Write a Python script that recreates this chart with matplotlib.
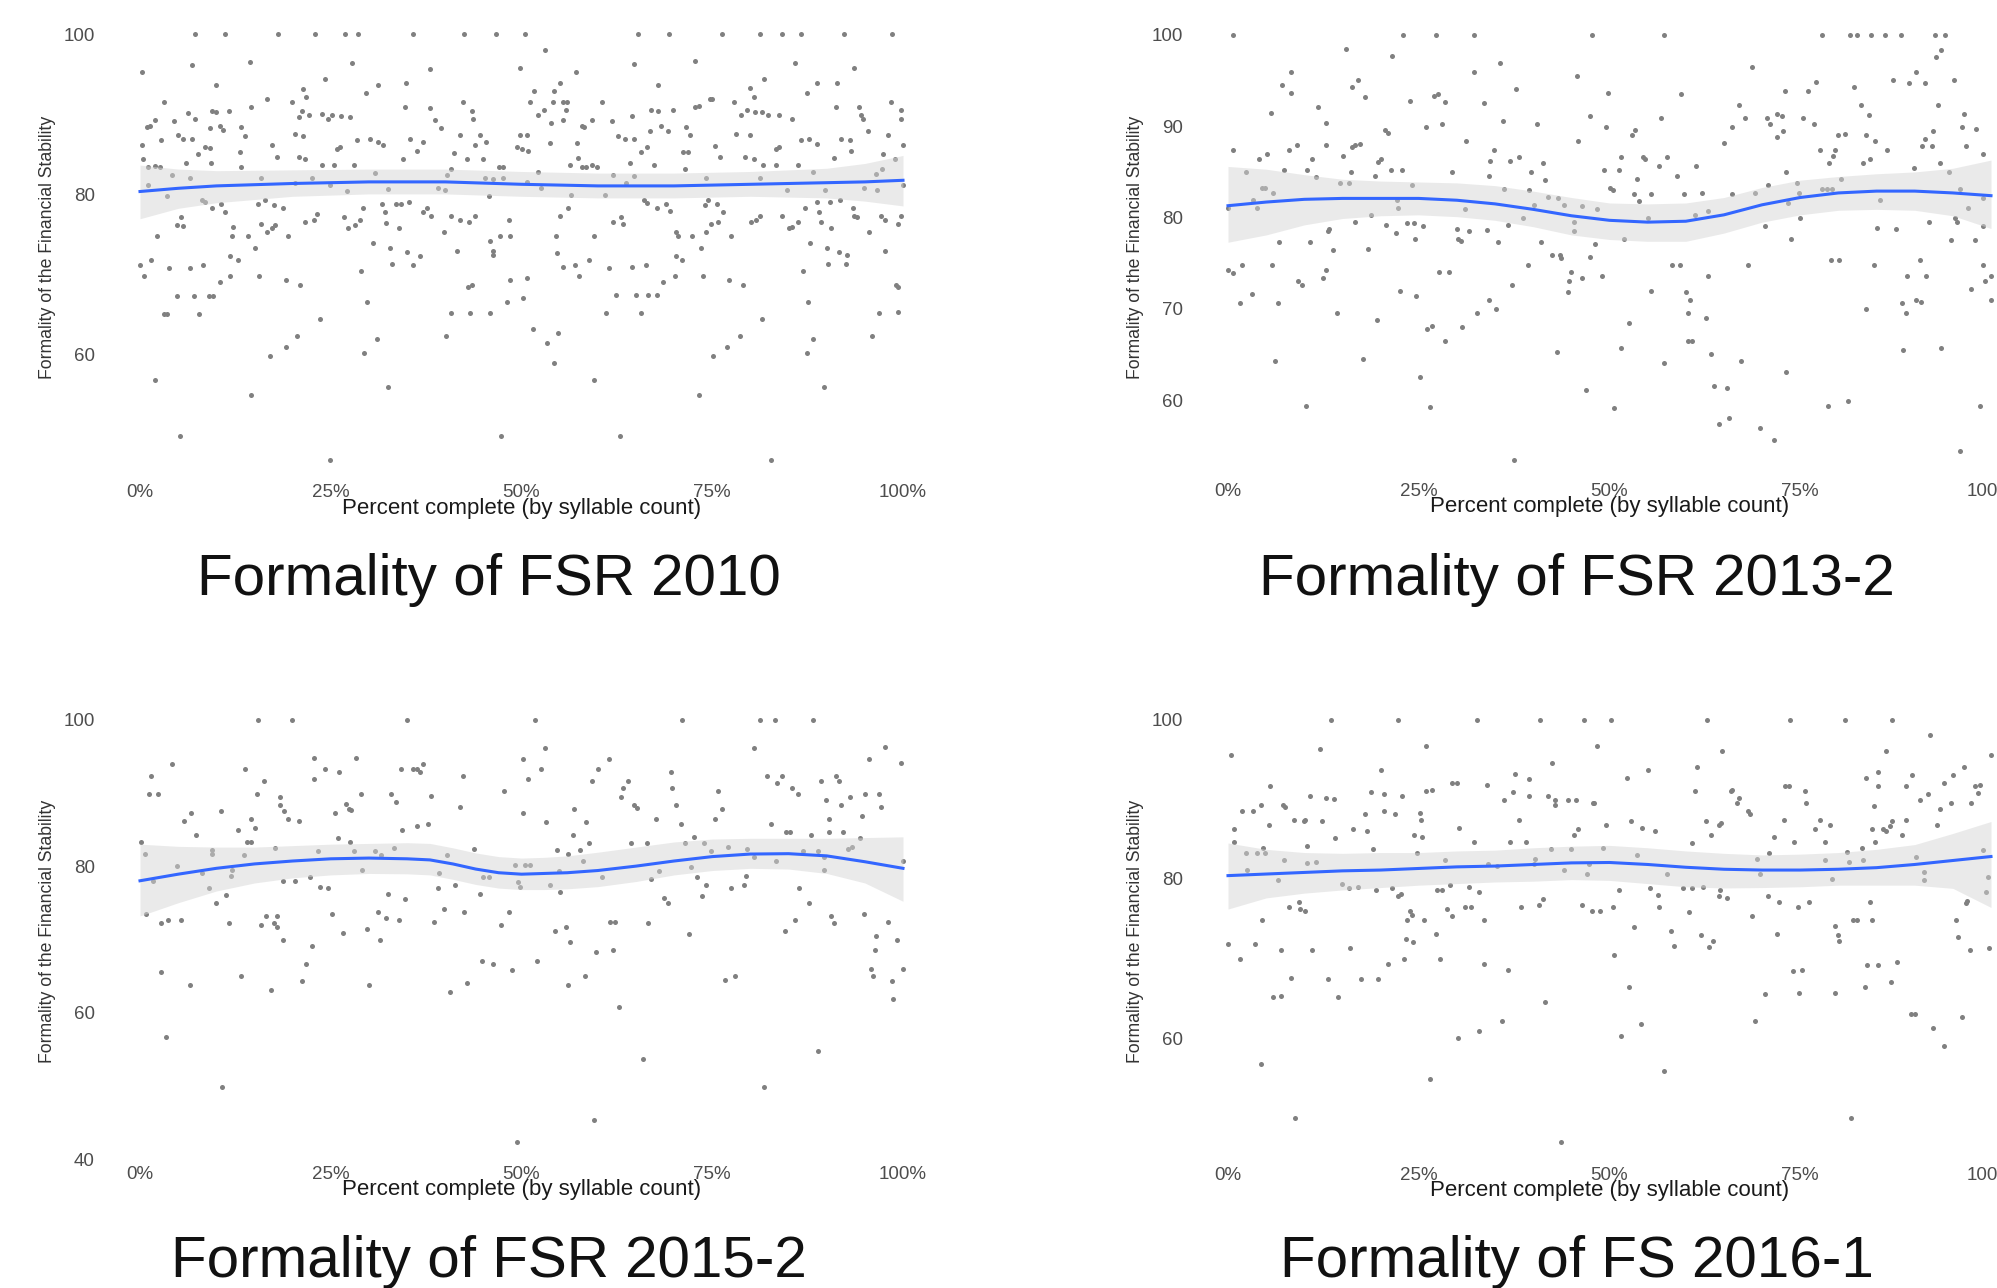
import matplotlib
matplotlib.use("Agg")
import matplotlib.pyplot as plt
import numpy as np

plt.rcParams['font.family'] = ['Liberation Sans', 'DejaVu Sans']

# ---- data: (percent complete, formality) ----
fsr_2010 = [
    (7.2,100),(11.1,100),(18.1,100),(23.0,100),(26.9,100),(28.6,100),(35.8,100),(42.5,100),(46.7,100),
    (6.8,96.2),(14.4,96.6),(27.8,96.4),(0.2,95.3),(38.0,95.7),
    (24.2,94.5),(9.9,93.7),(31.2,93.7),(34.9,93.9),(21.4,93.2),(29.6,92.7),(21.8,92.2),
    (3.1,91.6),(42.3,91.6),(16.7,92.0),(14.6,91.0),(19.9,91.6),(34.7,91.0),(38.0,90.8),(43.5,90.5),
    (9.4,90.5),(10.0,90.3),(11.6,90.4),(6.3,90.2),(7.2,89.5),(21.2,90.4),(22.1,90.0),
    (23.8,90.1),(24.7,89.5),(25.1,89.9),(26.4,89.8),(27.5,89.7),(20.8,89.7),(38.7,89.3),(43.7,89.4),
    (2.0,89.3),(4.4,89.2),(0.9,88.5),(1.3,88.6),(9.2,88.3),(13.3,88.4),(39.5,88.3),(10.5,88.6),(10.9,88.1),
    (20.3,87.6),(21.4,87.3),(5.0,87.4),(5.7,87.0),(6.8,87.0),(13.8,87.3),(42.0,87.4),(44.6,87.4),
    (30.1,87.0),(31.2,86.6),(31.9,86.2),(35.4,87.0),(37.1,86.6),(2.8,86.8),(28.5,86.8),(45.4,86.6),
    (0.2,86.2),(17.3,86.2),(43.9,86.2),(8.5,86.0),(9.2,85.8),(26.2,86.0),(25.8,85.7),(13.1,85.3),(36.3,85.5),
    (7.6,85.1),(41.2,85.2),(18.0,84.7),(20.9,84.7),(21.6,84.4),(0.4,84.4),(42.8,84.4),(44.9,84.4),(34.5,84.4),
    (6.0,83.9),(9.3,83.9),(23.8,83.7),(25.4,83.7),(28.1,83.7),(1.1,83.5),(2.0,83.6),(2.6,83.4),(13.3,83.5),
    (47.0,83.5),(47.6,83.5),(40.8,83.2),(4.2,82.4),(40.2,82.4),(30.8,82.7),
    (6.6,82.1),(15.9,82.1),(22.5,82.1),(45.2,82.1),(46.3,82.0),(47.6,82.1),
    (1.1,81.2),(24.9,81.2),(20.3,81.5),(39.0,80.8),(40.0,80.6),(32.5,80.7),(27.1,80.5),
    (3.5,79.8),(45.7,79.8),(8.1,79.3),(8.5,79.1),(10.6,78.9),(15.4,78.9),(16.4,79.4),
    (9.4,78.4),(18.7,78.4),(17.6,78.7),(31.7,78.9),(33.6,78.9),(34.2,78.9),(35.3,79.1),(29.2,78.4),(37.6,78.4),
    (11.1,77.8),(32.1,77.8),(37.1,77.8),(38.2,77.4),(40.8,77.4),(43.9,77.4),(5.4,77.2),(23.2,77.6),(26.8,77.2),
    (41.9,76.8),(43.1,76.6),(21.6,76.6),(22.8,76.8),(28.8,76.8),(32.2,76.5),(48.4,76.8),
    (4.8,76.2),(5.7,76.1),(12.2,76.0),(15.9,76.3),(17.7,76.2),(17.3,75.9),(27.3,75.9),(28.2,76.2),(33.9,75.8),
    (16.6,75.3),(39.9,75.3),(2.2,74.9),(12.0,74.9),(14.1,74.9),(19.4,74.9),(47.2,74.9),(48.5,74.9),
    (45.9,74.2),(30.6,74.0),(15.1,73.3),(32.8,73.3),(41.5,73.0),(46.2,73.0),(46.3,72.5),(35.0,72.8),
    (11.8,72.3),(36.7,72.3),(1.5,71.9),(12.9,71.9),(33.0,71.4),(0.0,71.2),(8.3,71.2),(35.8,71.2),
    (3.8,70.8),(6.6,70.8),(28.9,70.5),(0.5,69.8),(11.8,69.8),(15.6,69.8),(19.2,69.4),(10.5,69.1),(21.0,68.7),
    (48.5,69.3),(43.0,68.5),(43.5,68.7),
    (4.9,67.4),(7.1,67.4),(9.0,67.4),(9.6,67.4),(48.1,66.6),(29.8,66.6),
    (3.1,65.1),(3.5,65.1),(7.7,65.1),(40.8,65.3),(43.3,65.3),(45.9,65.3),(23.6,64.5),
    (20.6,62.4),(40.1,62.4),(31.0,62.0),(19.1,61.0),(29.3,60.3),(17.0,59.9),(2.0,56.9),(32.5,56.0),(14.6,55.0),
    (5.2,49.9),(47.3,49.9),(24.9,46.9),
    (50.4,100),(65.3,100),(69.3,100),(76.3,100),(81.2,100),(84.2,100),(86.6,100),(92.3,100),(98.6,100),
    (53.1,98.0),(72.8,96.7),(85.8,96.4),(64.8,96.3),(49.8,95.8),(93.6,95.8),(57.1,95.3),(81.8,94.5),
    (55.0,93.9),(88.7,93.9),(91.4,93.9),(67.9,93.7),(79.9,93.3),(51.6,93.0),(54.3,93.0),(87.4,92.7),
    (80.5,92.2),(74.7,92.0),(75.0,92.0),
    (51.1,91.6),(54.1,91.6),(55.5,91.6),(55.9,91.6),(60.6,91.6),(77.9,91.6),(98.4,91.6),
    (72.7,91.0),(73.3,91.1),(91.2,91.0),(94.2,91.0),
    (53.0,90.6),(55.8,90.6),(67.0,90.6),(67.9,90.5),(69.8,90.6),(79.6,90.6),(99.7,90.6),
    (80.6,90.3),(81.5,90.3),(94.5,90.0),(52.2,89.9),(64.5,89.8),(82.3,89.9),(83.7,89.9),(78.8,89.9),
    (85.4,89.5),(94.7,89.4),(99.8,89.5),(55.4,89.3),(53.9,89.0),(59.3,89.3),(61.9,89.2),
    (58.2,88.5),(57.9,88.6),(68.3,88.6),(69.2,88.0),(71.6,88.4),(66.9,88.0),(95.4,88.0),
    (78.1,87.6),(80.0,87.4),(98.0,87.4),(72.1,87.4),(49.8,87.4),(50.7,87.4),(62.7,87.3),(63.6,87.0),(64.7,87.0),
    (87.7,87.0),(86.6,86.8),(91.9,87.0),(93.0,86.8),(53.7,86.5),(57.3,86.5),(75.3,86.1),(88.7,86.3),(100.0,86.2),
    (66.5,86.0),(83.7,86.0),(83.4,85.7),(49.4,86.0),(50.0,85.7),(50.8,85.5),(65.7,85.3),(93.2,85.5),
    (71.2,85.3),(71.8,85.3),(97.4,85.1),
    (57.4,84.6),(76.0,84.7),(79.3,84.7),(80.5,84.4),(91.0,84.6),(99.0,84.4),(64.2,84.0),
    (56.3,83.7),(57.9,83.5),(58.5,83.5),(59.3,83.7),(59.9,83.5),(67.4,83.7),(81.7,83.7),(83.3,83.7),(86.3,83.7),
    (71.4,83.2),(97.3,83.2),(52.1,82.8),(88.2,82.8),(96.5,82.6),(62.0,82.4),(64.7,82.3),(74.2,82.1),(81.3,82.1),
    (50.7,81.6),(63.7,81.4),(100.0,81.2),(52.6,80.8),(94.9,80.8),(96.6,80.6),(89.8,80.6),(84.8,80.6),
    (56.5,80.0),(61.0,80.0),
    (66.0,79.3),(66.5,79.0),(74.4,79.3),(74.1,78.7),(90.4,79.1),(91.7,79.3),(88.7,79.1),(68.9,78.9),(75.6,78.9),
    (56.1,78.4),(67.7,78.4),(87.2,78.4),(93.5,78.4),(69.4,78.0),(76.4,77.8),(89.0,77.8),
    (55.0,77.4),(84.1,77.4),(81.3,77.4),(93.6,77.4),(94.0,77.2),(97.1,77.4),(99.8,77.4),(63.0,77.2),(97.6,76.8),
    (62.0,76.6),(80.1,76.6),(80.7,76.8),(89.2,76.6),(86.2,76.6),(99.3,76.3),(63.3,76.3),(74.9,76.3),(75.8,76.6),
    (85.5,76.0),(85.1,75.8),(90.5,75.8),(70.3,75.3),(95.6,75.3),
    (54.5,74.9),(59.5,74.9),(70.5,74.9),(72.4,74.9),(77.5,74.9),(74.2,75.4),
    (87.8,74.0),(73.5,73.3),(90.0,73.3),(97.6,73.0),(91.6,72.9),(92.7,72.5),(54.7,72.7),(70.3,72.4),(71.1,71.9),
    (58.8,71.9),(90.2,71.4),(92.5,71.4),(55.4,71.0),(57.0,71.2),(61.5,70.8),(64.5,71.0),(66.3,71.2),(86.9,70.5),
    (57.5,69.9),(70.1,69.9),(73.8,69.9),(50.7,69.6),(77.2,69.4),(68.6,69.1),(79.0,68.7),(99.3,68.5),(99.1,68.7),
    (62.4,67.5),(65.0,67.5),(66.6,67.5),(67.8,67.5),(50.2,67.1),(87.5,66.6),
    (61.1,65.2),(65.7,65.2),(96.8,65.2),(99.4,65.4),(81.5,64.5),(51.5,63.2),(54.8,62.7),(78.7,62.4),(95.9,62.4),
    (88.2,62.0),(53.4,61.5),(76.9,61.0),(87.4,60.3),(75.1,59.9),(54.2,59.0),(59.5,56.9),(89.6,56.0),(73.2,55.0),
    (62.9,49.9),(82.7,46.9),
]

fsr_2013_2 = [
    (0.6,100),(23.0,100),(27.3,100),(32.2,100),(47.7,100),
    (15.4,98.5),(21.5,97.7),(35.6,96.9),(8.2,95.9),(32.3,95.9),(45.7,95.5),(17.1,95.1),(7.1,94.5),(16.2,94.3),
    (37.8,94.1),(8.3,93.7),(27.5,93.5),(27.0,93.3),(18.0,93.2),(23.8,92.8),(28.4,92.7),(33.5,92.5),(11.8,92.1),
    (5.6,91.5),(47.4,91.1),(36.0,90.6),(12.9,90.4),(40.5,90.3),(28.0,90.3),(25.9,89.9),(20.6,89.6),(21.0,89.3),
    (31.2,88.4),(45.9,88.4),(9.0,88.0),(12.8,88.0),(16.6,88.0),(17.3,88.1),(16.2,87.7),
    (0.6,87.4),(8.0,87.4),(34.8,87.4),(5.1,87.0),(15.1,86.8),(38.2,86.6),(20.1,86.4),(19.7,86.1),(4.0,86.4),(11.0,86.4),
    (34.4,86.2),(37.0,86.2),(41.3,86.0),
    (7.3,85.2),(10.4,85.2),(21.3,85.2),(22.8,85.2),(2.3,85.0),(16.1,85.0),(29.4,85.0),(39.7,85.0),
    (19.3,84.6),(34.2,84.6),(11.5,84.4),(41.6,84.1),(14.7,83.8),(15.8,83.8),(24.1,83.6),
    (4.4,83.2),(4.8,83.2),(36.2,83.1),(39.5,83.0),(5.9,82.7),(42.0,82.3),(43.3,82.1),(3.3,81.9),(22.2,81.9),
    (40.1,81.4),(44.1,81.4),(46.4,81.3),(0.0,81.1),(22.3,81.1),(3.8,81.1),(31.0,80.9),
    (18.7,80.3),(38.7,79.9),(16.6,79.5),(45.3,79.5),(20.7,79.2),(23.5,79.4),(24.4,79.4),(25.6,79.1),(36.7,79.2),
    (30.0,78.8),(13.2,78.8),(13.1,78.5),(34.0,78.6),(31.6,78.5),(22.0,78.3),(45.3,78.5),
    (24.5,77.7),(30.2,77.7),(30.5,77.4),(6.7,77.3),(10.7,77.3),(35.4,77.3),(41.0,77.3),
    (18.4,76.6),(13.8,76.5),(42.4,75.9),(43.5,75.9),(43.7,75.6),(47.4,75.7),
    (1.9,74.8),(5.8,74.8),(39.3,74.8),(0.0,74.3),(0.6,73.9),(12.9,74.3),(27.7,74.0),(28.9,74.0),(44.9,74.0),
    (46.4,73.4),(12.4,73.4),(9.2,73.0),(9.7,72.6),(44.7,73.0),(37.2,72.6),(22.6,72.0),(44.5,71.8),(3.2,71.6),
    (24.6,71.4),(34.2,71.0),(1.6,70.6),(6.5,70.6),(35.1,70.0),(14.3,69.6),(32.6,69.6),(19.5,68.8),
    (26.7,68.1),(26.1,67.8),(30.7,68.0),(28.5,66.5),(43.1,65.3),(17.7,64.5),(6.2,64.3),(25.2,62.5),(46.9,61.1),
    (10.2,59.4),(26.5,59.2),(37.5,53.5),
    (57.2,100),(77.8,100),(81.5,100),(82.4,100),(84.3,100),(86.1,100),(88.2,100),(92.6,100),(94.0,100),
    (93.5,98.4),(92.8,97.6),(68.7,96.5),(90.2,95.9),(87.2,95.1),(95.1,95.1),(77.1,94.9),(89.2,94.7),(91.3,94.7),
    (82.0,94.3),(73.0,93.9),(76.0,93.9),(49.8,93.7),(59.4,93.5),
    (67.0,92.3),(82.9,92.3),(93.0,92.3),(96.5,91.4),(72.0,91.4),(72.6,91.1),(84.0,91.2),
    (56.8,90.9),(67.7,90.9),(70.6,90.9),(75.3,90.9),(71.1,90.3),(76.8,90.3),
    (49.5,89.9),(66.0,89.9),(96.2,89.9),(98.0,89.7),(72.7,89.5),(53.3,89.6),(92.4,89.5),
    (52.9,89.1),(80.0,89.1),(80.9,89.2),(83.6,89.1),(72.0,88.8),(84.8,88.4),(91.3,88.6),(65.0,88.2),
    (90.9,87.8),(92.3,87.8),(96.7,87.8),(77.6,87.4),(79.6,87.4),(86.4,87.4),(99.0,87.0),(79.3,86.8),
    (51.5,86.6),(54.4,86.6),(57.6,86.6),(54.7,86.4),(84.1,86.4),(78.8,86.0),(83.2,86.0),(93.3,86.0),
    (56.5,85.6),(61.4,85.6),(89.9,85.4),(49.3,85.2),(51.3,85.2),(73.1,85.0),(94.5,85.0),(58.8,84.6),
    (53.6,84.2),(80.4,84.2),(74.6,83.8),(70.8,83.6),(50.1,83.2),(50.5,83.0),
    (77.9,83.1),(78.5,83.1),(79.2,83.1),(96.0,83.1),(62.1,82.7),(69.1,82.7),(74.9,82.7),
    (53.2,82.6),(55.5,82.6),(59.8,82.6),(66.1,82.6),(99.0,82.1),(85.4,81.9),(53.9,81.8),(73.4,81.6),(97.0,81.1),
    (48.3,80.9),(62.9,80.7),(61.2,80.3),(75.0,79.9),(55.0,79.9),(95.3,79.9),(95.5,79.5),(91.9,79.5),(70.4,79.1),(99.0,79.1),
    (85.0,78.9),(87.6,78.7),(51.9,77.7),(73.8,77.7),(94.8,77.5),(97.9,77.5),(48.1,77.1),
    (79.0,75.4),(80.1,75.4),(90.7,75.4),(58.2,74.8),(59.2,74.8),(68.1,74.8),(84.7,74.8),(98.9,74.8),
    (49.0,73.6),(62.9,73.6),(89.0,73.6),(91.5,73.6),(100.0,73.6),(99.2,73.0),(97.4,72.2),(55.5,72.0),(60.0,71.8),
    (60.5,71.0),(90.2,71.0),(90.8,70.8),(100.0,71.0),(88.4,70.6),(83.6,70.0),(60.3,69.6),(88.8,69.6),(62.6,69.0),
    (52.6,68.4),(60.3,66.5),(60.8,66.5),(51.5,65.7),(88.5,65.5),(93.4,65.7),(63.3,65.1),(67.2,64.3),(57.1,64.1),
    (73.1,63.1),(63.7,61.5),(65.4,61.3),(81.2,59.9),(78.7,59.4),(98.6,59.4),(50.6,59.1),(65.6,58.0),(64.3,57.4),
    (69.7,57.0),(71.5,55.6),(95.9,54.4),
]

fsr_2015_2 = [
    (15.4,100),(19.9,100),(35.0,100),
    (22.8,94.8),(28.3,94.8),(4.2,93.9),(13.7,93.3),(24.2,93.3),(34.2,93.3),(35.8,93.3),(36.3,93.3),(37.1,93.9),(36.7,92.9),
    (26.1,92.9),(1.4,92.3),(42.3,92.3),(22.8,91.9),(16.3,91.6),(47.7,90.3),
    (1.2,89.8),(2.3,89.8),(15.3,89.8),(28.9,89.8),(32.9,89.8),(38.1,89.6),(18.3,89.4),(33.6,88.8),(27.0,88.5),
    (18.3,88.3),(41.9,88.1),(27.4,87.8),(27.7,87.6),(10.6,87.5),(18.9,87.5),(6.7,87.3),(25.5,87.3),
    (14.5,86.5),(19.4,86.5),(5.8,86.1),(20.9,86.1),(37.8,85.8),(36.3,85.5),(15.1,85.2),(12.8,85.0),(34.3,85.0),
    (7.3,84.2),(26.0,83.8),(0.1,83.3),(14.0,83.3),(14.6,83.3),(27.5,83.3),(17.7,82.5),(33.3,82.5),(43.8,82.3),
    (23.3,82.0),(28.1,82.0),(30.8,82.0),(9.5,82.2),(0.6,81.7),(9.5,81.7),(13.6,81.5),(31.6,81.5),(40.2,81.5),
    (49.1,80.2),(4.9,80.0),(12.1,79.5),(29.1,79.5),(8.1,79.1),(39.2,79.1),(11.9,78.7),(22.3,78.5),(45.0,78.5),(45.7,78.5),
    (1.7,78.0),(18.8,78.0),(20.3,78.0),(49.8,77.2),(23.6,77.2),(24.7,77.0),(41.3,77.4),(9.0,77.0),(39.0,77.0),
    (44.6,76.2),(32.5,76.2),(11.3,76.0),(34.7,75.5),(10.0,75.0),(39.9,74.2),(31.2,73.7),(42.5,73.7),(48.4,73.7),
    (0.8,73.4),(25.1,73.4),(16.5,73.2),(18.0,73.2),(32.2,72.9),(3.7,72.7),(5.4,72.7),(33.9,72.7),(38.5,72.4),
    (2.8,72.2),(11.6,72.2),(17.6,72.2),(15.8,72.0),(17.9,71.7),(47.3,71.9),(29.8,71.4),(26.6,70.9),(18.7,69.9),(31.5,69.9),
    (22.5,69.1),(44.8,67.1),(21.8,66.6),(46.2,66.6),(48.7,65.8),(2.7,65.6),(13.2,65.0),(21.2,64.3),(42.9,64.1),
    (6.6,63.8),(30.0,63.8),(17.2,63.1),(40.6,62.8),(3.4,56.7),(10.8,49.9),(49.4,42.3),
    (51.8,100),(71.0,100),(81.3,100),(83.2,100),(88.2,100),
    (53.1,96.1),(80.5,96.1),(97.6,96.3),(95.5,94.6),(61.5,94.6),(50.2,94.6),(99.7,94.1),(52.6,93.3),(60.0,93.3),
    (69.6,92.9),(82.2,92.3),(84.1,92.3),(91.2,92.3),(50.8,91.9),(59.3,91.6),(63.9,91.6),(89.3,91.6),(91.6,91.6),
    (83.5,91.3),(63.3,90.6),(69.7,90.6),(85.4,90.6),(75.8,90.3),(86.2,89.8),(95.0,89.8),(96.9,89.8),(63.1,89.4),(93.0,89.4),
    (89.9,89.0),(64.7,88.3),(70.2,88.3),(91.9,88.3),(97.1,88.1),(65.2,88.0),(56.9,87.8),(76.3,87.8),(50.2,87.3),
    (94.6,86.8),(67.6,86.5),(75.3,86.5),(90.3,86.5),(53.2,86.0),(58.5,86.0),(70.9,85.8),(82.7,85.8),
    (84.7,84.6),(85.2,84.6),(90.3,84.6),(92.2,84.6),(56.7,84.3),(87.9,84.3),(72.6,84.0),(94.4,83.8),
    (58.8,83.2),(64.3,83.2),(66.5,83.2),(71.4,83.2),(73.9,83.2),(77.0,82.6),(92.8,82.4),(93.3,82.6),
    (54.6,82.2),(57.7,82.2),(79.5,82.4),(74.9,82.0),(86.9,82.0),(88.9,82.0),(56.1,81.7),(80.5,81.3),(89.6,81.3),
    (83.3,80.7),(100.0,80.7),(58.0,80.7),(50.5,80.2),(51.1,80.2),(72.2,79.9),(89.7,79.5),(68.0,79.4),(54.9,79.3),
    (79.4,78.7),(60.6,78.5),(73.0,78.5),(67.0,78.2),(49.6,77.9),(53.8,77.4),(74.2,77.4),(79.2,77.4),
    (77.5,77.0),(86.4,77.0),(55.1,76.4),(73.6,75.9),(68.7,75.7),(69.2,75.0),(87.7,75.0),
    (94.9,73.5),(90.6,73.2),(85.8,72.7),(61.6,72.4),(62.3,72.4),(98.0,72.4),(66.6,72.2),(91.0,72.2),(55.8,71.7),
    (54.4,71.2),(84.5,71.2),(72.0,70.8),(96.4,70.4),(99.2,69.9),(56.4,69.7),(62.0,68.6),(96.3,68.6),(59.8,68.3),
    (52.0,67.1),(100.0,66.0),(95.8,66.0),(58.3,65.0),(78.0,65.0),(96.1,65.0),(76.7,64.5),(98.5,64.3),(56.1,63.8),
    (98.7,61.8),(62.8,60.8),(88.8,54.7),(65.9,53.6),(81.8,49.9),(59.5,45.3),
]

fs_2016_1 = [
    (13.5,100),(22.3,100),(32.6,100),(40.9,100),(46.7,100),
    (26.0,96.7),(12.0,96.3),(0.4,95.6),(42.4,94.6),(20.0,93.7),(37.6,93.2),(39.4,92.5),(29.3,92.0),(30.0,92.0),
    (34.0,91.8),(5.5,91.6),(26.0,91.0),(26.7,91.2),(18.7,90.9),(37.4,90.9),(20.4,90.6),(22.8,90.4),
    (10.7,90.4),(39.5,90.4),(41.9,90.4),(12.9,90.2),(13.9,90.0),(36.2,89.9),(42.9,89.9),(44.5,89.9),(45.6,89.9),
    (47.9,89.5),(4.3,89.3),(7.2,89.3),(7.5,89.0),(42.9,89.3),
    (3.3,88.5),(1.9,88.5),(20.5,88.5),(25.2,88.3),(18.0,88.1),(21.9,88.1),
    (8.6,87.4),(9.9,87.2),(10.1,87.4),(12.3,87.2),(25.3,87.4),(38.2,87.4),(5.4,86.7),(30.3,86.4),
    (0.8,86.2),(16.4,86.2),(18.2,86.0),(24.4,85.5),(25.4,85.3),(45.9,86.2),(45.4,85.5),(14.0,85.1),
    (0.8,84.6),(32.3,84.6),(37.0,84.6),(39.0,84.6),(10.4,84.1),(4.6,83.9),(19.0,83.7),(44.9,83.8),(42.3,83.7),
    (2.4,83.2),(3.8,83.2),(4.8,83.2),(24.8,83.2),(7.3,82.4),(40.2,82.5),(28.5,82.3),(10.4,82.0),(11.5,82.1),
    (40.1,81.8),(34.1,81.8),(35.2,81.6),(47.3,81.8),(2.5,81.1),(44.1,81.1),(47.0,80.6),(6.5,79.9),
    (14.9,79.4),(15.9,78.9),(17.0,79.0),(29.1,79.2),(31.6,79.0),(21.5,78.8),(19.4,78.6),(27.4,78.6),(28.1,78.6),
    (32.9,78.3),(22.7,78.1),(22.3,77.8),(41.3,77.5),(9.3,77.1),(40.7,76.7),(46.4,76.7),
    (38.4,76.4),(8.0,76.4),(31.1,76.4),(31.9,76.5),(9.4,76.2),(10.1,76.0),(23.9,76.0),(28.7,76.2),(47.7,75.9),
    (24.1,75.4),(29.4,75.3),(4.5,74.8),(23.5,74.8),(25.7,74.8),(33.6,74.8),(27.2,73.1),(23.3,72.5),(24.3,72.1),
    (0.0,71.8),(3.6,71.8),(16.0,71.3),(7.0,71.1),(11.0,71.1),(1.6,69.9),(23.1,69.9),(27.8,69.9),(21.0,69.3),(33.5,69.3),
    (36.7,68.6),(8.3,67.6),(13.1,67.4),(17.4,67.4),(19.6,67.4),(5.9,65.2),(6.9,65.3),(14.4,65.2),(41.5,64.5),
    (35.9,62.2),(32.9,60.9),(30.1,60.0),(4.3,56.7),(26.5,54.8),(8.8,49.9),(43.7,46.9),
    (50.2,100),(62.8,100),(73.6,100),(80.9,100),(87.0,100),
    (92.0,98.1),(48.4,96.7),(64.7,96.0),(86.2,96.0),(100.0,95.6),(61.5,94.1),(96.4,94.1),(55.0,93.7),(85.2,93.4),
    (89.6,93.0),(95.0,93.0),(52.3,92.7),(83.6,92.7),(93.8,92.0),
    (73.0,91.6),(73.5,91.6),(85.2,91.6),(88.8,91.6),(97.9,91.6),(98.5,91.8),(66.0,91.2),(65.9,91.0),(61.2,91.0),(75.6,91.0),
    (98.3,90.8),(91.7,90.6),(67.0,90.2),(90.7,89.9),(48.0,89.5),(66.7,89.5),(75.8,89.5),(94.7,89.5),(97.4,89.5),
    (84.7,89.1),(93.3,88.8),(68.1,88.5),(68.4,88.2),
    (72.9,87.4),(77.6,87.4),(87.0,87.2),(88.9,87.4),(52.8,87.2),(62.6,87.2),(64.3,86.8),(64.6,87.0),
    (49.6,86.7),(78.9,86.7),(92.9,86.7),(54.3,86.4),(86.7,86.6),(76.9,86.2),(84.4,86.2),(85.9,86.2),(86.3,86.0),(55.9,86.0),
    (63.3,85.5),(88.3,85.5),(71.6,85.3),(74.2,84.6),(78.3,84.6),(60.8,84.5),(84.8,84.6),(49.2,83.9),(83.1,83.9),
    (99.0,83.6),(81.1,83.4),(70.9,83.2),(53.6,83.0),(90.2,82.7),(69.3,82.5),(78.3,82.3),(83.2,82.3),(81.4,82.1),
    (91.2,80.9),(57.6,80.6),(69.7,80.6),(99.6,80.2),(79.2,80.0),(91.2,79.8),(62.3,79.0),(59.6,78.8),(60.8,78.8),
    (51.2,78.6),(64.5,78.6),(55.3,78.8),(99.3,78.3),(56.3,78.0),(64.3,77.8),(65.4,77.6),(70.8,77.8),
    (96.9,77.2),(96.7,77.0),(72.2,77.1),(76.2,77.1),(84.1,77.1),(50.4,76.5),(56.5,76.5),(74.7,76.5),(48.8,75.9),
    (60.4,75.8),(68.7,75.3),(81.9,74.8),(82.4,74.8),(84.4,74.8),(95.4,74.8),(79.6,74.1),(53.2,73.9),(58.0,73.4),
    (71.9,73.1),(62.0,72.9),(79.9,72.9),(95.7,72.7),(63.6,72.2),(80.1,72.2),(58.5,71.6),(63.1,71.4),(97.3,71.1),(99.8,71.3),
    (50.6,70.4),(87.7,69.5),(83.8,69.2),(85.2,69.2),(75.2,68.6),(74.1,68.4),(86.9,67.1),(52.5,66.4),(83.5,66.4),
    (70.4,65.5),(74.8,65.7),(79.6,65.7),(89.5,63.0),(90.0,63.0),(96.2,62.7),(69.1,62.2),(54.1,61.8),(92.4,61.3),
    (51.5,60.2),(93.9,59.0),(57.2,55.8),(81.7,49.9),
]

# smoothed trend (loess) with confidence band, read at these percents
grid_2010 = [0, 5, 10, 20, 30, 40, 50, 60, 70, 80, 90, 95, 100]
fit_2010 = [80.4, 80.8, 81.1, 81.4, 81.6, 81.6, 81.3, 81.1, 81.1, 81.3, 81.5, 81.6, 81.8]
lo_2010 = [77.0, 78.3, 79.0, 79.8, 80.1, 80.1, 79.8, 79.6, 79.6, 79.8, 79.6, 79.2, 78.6]
hi_2010 = [83.7, 83.2, 83.0, 83.1, 83.2, 83.2, 82.9, 82.7, 82.7, 82.9, 83.3, 83.9, 84.9]

grid_21 = [0, 5, 10, 15, 20, 25, 30, 35, 40, 45, 50, 55, 60, 65, 70, 75, 80, 85, 90, 95, 100]
fit_2013 = [81.3, 81.7, 82.0, 82.1, 82.1, 82.1, 81.9, 81.5, 80.9, 80.2, 79.7, 79.5, 79.6, 80.3, 81.4, 82.2, 82.7, 82.9, 82.9, 82.7, 82.4]
lo_2013 = [77.3, 78.1, 79.2, 79.9, 80.2, 80.3, 80.1, 79.7, 79.0, 78.1, 77.6, 77.4, 77.4, 78.3, 79.5, 80.3, 80.8, 80.9, 80.8, 80.2, 78.8]
hi_2013 = [85.6, 85.3, 84.7, 84.2, 84.0, 83.9, 83.8, 83.5, 82.9, 82.2, 81.6, 81.5, 81.6, 82.2, 83.3, 84.1, 84.5, 84.8, 85.0, 85.4, 86.3]

grid_2015 = [0, 5, 10, 15, 20, 25, 30, 35, 38, 41, 44, 47, 50, 53, 56, 60, 65, 70, 75, 80, 85, 90, 95, 100]
fit_2015 = [78.0, 78.9, 79.7, 80.3, 80.7, 81.0, 81.1, 81.0, 80.85, 80.3, 79.6, 79.1, 78.9, 79.0, 79.1, 79.4, 80.0, 80.7, 81.3, 81.65, 81.7, 81.4, 80.6, 79.7]
lo_2015 = [73.2, 75.0, 76.6, 77.7, 78.4, 78.8, 79.0, 78.95, 78.8, 78.2, 77.5, 77.0, 76.8, 76.8, 76.9, 77.2, 77.9, 78.8, 79.4, 79.7, 79.6, 79.0, 77.7, 75.2]
hi_2015 = [83.0, 82.7, 82.6, 82.6, 82.8, 83.0, 83.1, 83.2, 83.1, 82.5, 81.8, 81.3, 81.1, 81.2, 81.4, 81.9, 82.6, 83.3, 83.7, 83.8, 83.8, 83.8, 83.9, 84.0]

fit_2016 = [80.4, 80.6, 80.8, 81.0, 81.1, 81.3, 81.5, 81.6, 81.8, 82.0, 82.05, 81.8, 81.45, 81.2, 81.1, 81.1, 81.2, 81.4, 81.8, 82.3, 82.8]
lo_2016 = [76.2, 77.6, 78.2, 78.6, 78.9, 79.2, 79.4, 79.6, 79.7, 79.9, 79.8, 79.4, 79.0, 78.85, 78.9, 79.0, 79.2, 79.2, 79.2, 78.8, 76.4]
hi_2016 = [84.5, 83.7, 83.3, 83.2, 83.3, 83.3, 83.5, 83.6, 83.9, 84.1, 84.2, 83.9, 83.5, 83.2, 83.0, 83.1, 83.3, 83.7, 84.3, 85.7, 87.2]

titles = ["Formality of FSR 2010", "Formality of FSR 2013-2",
          "Formality of FSR 2015-2", "Formality of FS 2016-1"]
xticks = [0, 25, 50, 75, 100]
xticklabels = ["0%", "25%", "50%", "75%", "100%"]

W, H = 1997, 1288
fig = plt.figure(figsize=(W / 100, H / 100), dpi=100)

# (points, grid, fit, lo, hi, yticks, ylim, rect px: left, right, top, bottom, title x, title baseline)
panels = [
    (fsr_2010, grid_2010, fit_2010, lo_2010, hi_2010, [60, 80, 100], (44.2, 102.7),
     (101.85, 941.15, 12.8, 481.6), 489, 595),
    (fsr_2013_2, grid_21, fit_2013, lo_2013, hi_2013, [60, 70, 80, 90, 100], (51.2, 102.3),
     (1189.85, 2029.15, 14.0, 480.5), 1577, 595),
    (fsr_2015_2, grid_2015, fit_2015, lo_2015, hi_2015, [40, 60, 80, 100], (39.4, 102.9),
     (101.85, 941.15, 698.4, 1163.5), 489, 1277),
    (fs_2016_1, grid_21, fit_2016, lo_2016, hi_2016, [60, 80, 100], (44.2, 102.65),
     (1189.85, 2029.15, 698.5, 1163.8), 1577, 1277),
]

for (pts, gx, fit, lo, hi, yt, ylim, rect, tx, tb), title in zip(panels, titles):
    l, r, t, b = rect
    ax = fig.add_axes([l / W, 1 - b / H, (r - l) / W, (b - t) / H])
    px, py = zip(*pts)
    ax.scatter(px, py, s=13, color="#808080", linewidths=0, zorder=1)
    ax.fill_between(gx, lo, hi, color="#d6d6d6", alpha=0.5, linewidth=0, zorder=2)
    ax.plot(gx, fit, color="#3366ff", lw=2.2, zorder=3, solid_joinstyle="round")
    ax.set_xlim(-5, 105)
    ax.set_ylim(*ylim)
    ax.set_xticks(xticks)
    ax.set_xticklabels(xticklabels)
    ax.set_yticks(yt)
    ax.tick_params(length=0, labelsize=13.5, labelcolor="#4d4d4d")
    ax.tick_params(axis="x", pad=2)
    ax.tick_params(axis="y", pad=5)
    for s in ax.spines.values():
        s.set_visible(False)
    ax.set_xlabel("Percent complete (by syllable count)", fontsize=16, color="#1a1a1a")
    ax.xaxis.set_label_coords(0.5, -16 / (b - t))
    ax.set_ylabel("Formality of the Financial Stability", fontsize=12.7, color="#333333")
    ax.yaxis.set_label_coords(-46 / (r - l), 0.5)
    fig.text(tx / W, 1 - tb / H, title, fontsize=42, ha="center", va="baseline", color="#111111")

fig.savefig("out.png", dpi=100, facecolor="white")
